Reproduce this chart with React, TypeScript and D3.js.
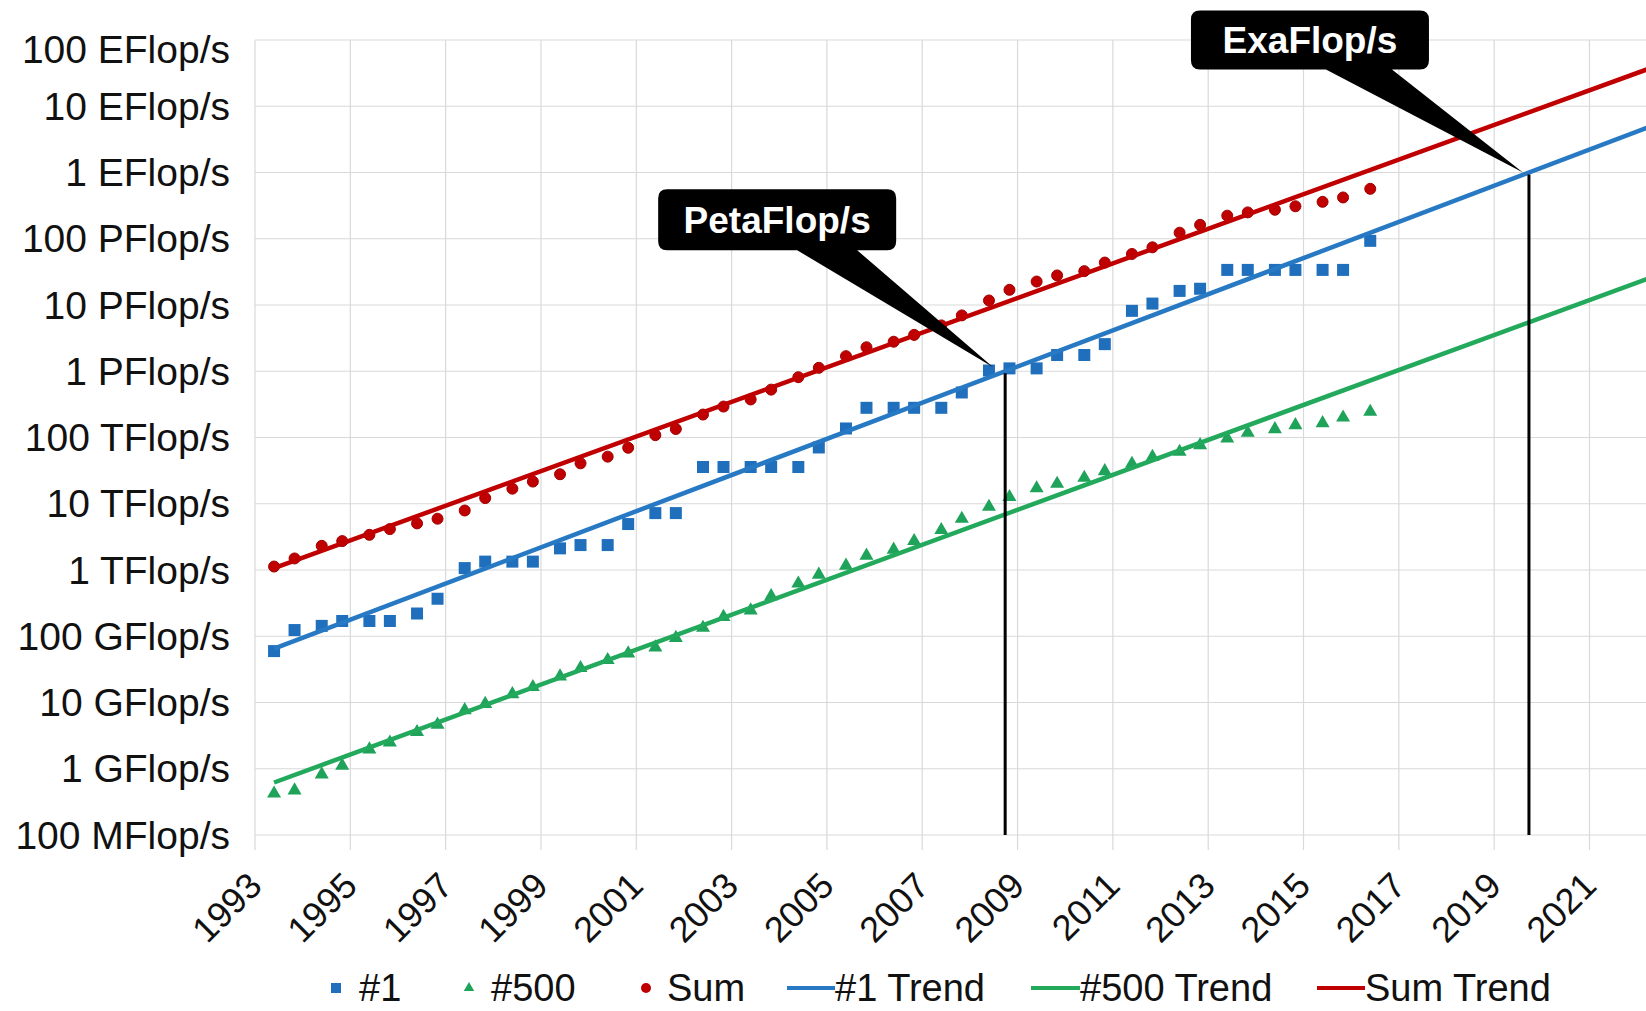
import * as d3 from 'd3'

// TOP500 lists (June / November)
const lists = [
  '1993-06', '1993-11', '1994-06', '1994-11', '1995-06', '1995-11', '1996-06', '1996-11',
  '1997-06', '1997-11', '1998-06', '1998-11', '1999-06', '1999-11', '2000-06', '2000-11',
  '2001-06', '2001-11', '2002-06', '2002-11', '2003-06', '2003-11', '2004-06', '2004-11',
  '2005-06', '2005-11', '2006-06', '2006-11', '2007-06', '2007-11', '2008-06', '2008-11',
  '2009-06', '2009-11', '2010-06', '2010-11', '2011-06', '2011-11', '2012-06', '2012-11',
  '2013-06', '2013-11', '2014-06', '2014-11', '2015-06', '2015-11', '2016-06',
]

// performance in GFlop/s
const rank1 = [
  59.7, 124, 143.4, 170, 170, 170, 220.4, 368.2,
  1068, 1338, 1338, 1338, 2121, 2379, 2379, 4938,
  7226, 7226, 35860, 35860, 35860, 35860, 35860, 70720,
  136800, 280600, 280600, 280600, 280600, 478200, 1026000, 1105000,
  1105000, 1759000, 1759000, 2566000, 8162000, 10510000, 16320000, 17590000,
  33860000, 33860000, 33860000, 33860000, 33860000, 33860000, 93010000,
]

const rank500 = [
  0.422, 0.472, 0.822, 1.114, 1.955, 2.489, 3.588, 4.622,
  7.674, 9.51, 13.39, 17.1, 24.73, 33.1, 43.82, 55.1,
  67.78, 94.3, 134.3, 195.8, 245.1, 403.4, 624, 850.6,
  1166, 1646, 2026, 2737, 4005, 5929, 9000, 12640,
  17100, 20050, 24670, 31120, 40190, 50940, 60820, 76500,
  96620, 117800, 133700, 153400, 164700, 200000, 245000,
]

const sum = [
  1128, 1493, 2317, 2730, 3397, 4147, 5051, 5945,
  7907, 12170, 16890, 21620, 27880, 40740, 51400, 70000,
  108500, 134400, 222000, 293000, 375000, 528000, 813000, 1127000,
  1690000, 2300000, 2790000, 3540000, 4920000, 6970000, 11700000, 16950000,
  22600000, 27950000, 32430000, 43700000, 58900000, 74200000, 123400000, 162000000,
  223000000, 250000000, 274000000, 309000000, 361000000, 420000000, 567000000,
]

// trend line end points [year, GFlop/s]
const trend1: [number, number][] = [[1993.4, 6.5e1], [2023, 7.8e9]]
const trend500: [number, number][] = [[1993.4, 6.2e-1], [2023, 4.0e7]]
const trendSum: [number, number][] = [[1993.4, 1.07e3], [2023, 5.8e10]]

const yTickValues = [1e-1, 1, 1e1, 1e2, 1e3, 1e4, 1e5, 1e6, 1e7, 1e8, 1e9, 1e10, 1e11]
const yTickLabels = [
  '100 MFlop/s', '1 GFlop/s', '10 GFlop/s', '100 GFlop/s', '1 TFlop/s', '10 TFlop/s',
  '100 TFlop/s', '1 PFlop/s', '10 PFlop/s', '100 PFlop/s', '1 EFlop/s', '10 EFlop/s', '100 EFlop/s',
]
const xTickYears = [1993, 1995, 1997, 1999, 2001, 2003, 2005, 2007, 2009, 2011, 2013, 2015, 2017, 2019, 2021]

const milestones = [
  { label: 'PetaFlop/s', year: 2008.74, gflops: 1e6 },
  { label: 'ExaFlop/s', year: 2019.73, gflops: 1e9 },
]

const legendItems = ['#1', '#500', 'Sum', '#1 Trend', '#500 Trend', 'Sum Trend']

// layout
const W = 1646
const H = 1011
const left = 255
const top = 40
const bottom = 835
const pxPerYear = 47.66
const FONT = '"Liberation Sans", Arial, sans-serif'

const BLUE = '#1f6fbd'
const GREEN = '#1fa25a'
const RED = '#c00000'
const BLUE_TREND = '#2779c3'
const GREEN_TREND = '#22a95c'
const RED_TREND = '#c00000'
const GRID = '#d9d9d9'

// callout geometry relative to the tip
const calloutLayout: Record<string, { tip: [number, number]; box: [number, number, number, number]; wedge: [number, number] }> = {
  'PetaFlop/s': { tip: [-12, -4], box: [-335, -178, -97, -117], wedge: [-196, -136] },
  'ExaFlop/s': { tip: [-6, 0], box: [-332, -162, -94, -103], wedge: [-197, -131] },
}

const legendLayout = [
  { kind: 'square', mx: 336, tx: 359 },
  { kind: 'triangle', mx: 469, tx: 491 },
  { kind: 'circle', mx: 646, tx: 667 },
  { kind: 'line', mx: 787, tx: 835, color: BLUE_TREND },
  { kind: 'line', mx: 1031, tx: 1080, color: GREEN_TREND },
  { kind: 'line', mx: 1317, tx: 1365, color: RED_TREND },
]

function listYear(s: string) {
  const [yr, mo] = s.split('-')
  return +yr + (mo === '06' ? 0.4 : 0.83)
}

function calloutPath(x0: number, y0: number, x1: number, y1: number, w0: number, w1: number, tx: number, ty: number) {
  const r = 9
  return `M${x0 + r},${y0} H${x1 - r} Q${x1},${y0} ${x1},${y0 + r} V${y1 - r} Q${x1},${y1} ${x1 - r},${y1} H${w1} L${tx},${ty} L${w0},${y1} H${x0 + r} Q${x0},${y1} ${x0},${y1 - r} V${y0 + r} Q${x0},${y0} ${x0 + r},${y0} Z`
}

export default function App() {
  const x = d3.scaleLinear().domain([1993, 2023]).range([left, left + 30 * pxPerYear])
  const y = d3.scaleLog().domain([1e-1, 1e11]).range([bottom, top])

  const line = d3
    .line<[number, number]>()
    .x((d) => x(d[0]))
    .y((d) => y(d[1]))

  const years = lists.map(listYear)
  const tri = d3.symbol().type(d3.symbolTriangle).size(85)()

  return (
    <svg width={W} height={H} style={{ position: 'absolute', left: 0, top: 0, background: '#fff' }} fontFamily={FONT}>
      <defs>
        <clipPath id="plot-clip">
          <rect x={left} y={0} width={W - left} height={bottom} />
        </clipPath>
      </defs>
      <rect width={W} height={H} fill="#fff" />

      {/* grid */}
      {yTickValues.map((v) => (
        <line key={v} x1={left} x2={W} y1={y(v)} y2={y(v)} stroke={GRID} strokeWidth={1.2} />
      ))}
      {xTickYears.map((yr) => (
        <line key={yr} x1={x(yr)} x2={x(yr)} y1={top} y2={bottom + 15} stroke={GRID} strokeWidth={1.2} />
      ))}

      {/* y labels */}
      {yTickValues.map((v, i) => (
        <text key={v} x={230} y={Math.max(y(v), top + 9)} dy="0.35em" textAnchor="end" fontSize={39} fill="#111">
          {yTickLabels[i]}
        </text>
      ))}

      {/* x labels */}
      {xTickYears.map((yr) => (
        <text
          key={yr}
          transform={`translate(${x(yr)},${bottom + 44}) rotate(-45)`}
          dy="0.35em"
          textAnchor="end"
          fontSize={36}
          fill="#111"
        >
          {yr}
        </text>
      ))}

      <g clipPath="url(#plot-clip)">
        {/* markers */}
        {rank1.map((v, i) => (
          <rect key={'b' + i} x={x(years[i]) - 6} y={y(v) - 6} width={12} height={12} fill={BLUE} />
        ))}
        {rank500.map((v, i) => (
          <path key={'g' + i} d={tri!} transform={`translate(${x(years[i])},${y(v)})`} fill={GREEN} />
        ))}
        {sum.map((v, i) => (
          <circle key={'r' + i} cx={x(years[i])} cy={y(v)} r={5.5} fill={RED} stroke="#a00000" strokeWidth={1} />
        ))}

        {/* trend lines */}
        <path d={line(trend500)!} fill="none" stroke={GREEN_TREND} strokeWidth={4.5} />
        <path d={line(trend1)!} fill="none" stroke={BLUE_TREND} strokeWidth={4.5} />
        <path d={line(trendSum)!} fill="none" stroke={RED_TREND} strokeWidth={4.5} />
      </g>

      {/* milestones */}
      {milestones.map((m) => {
        const px = x(m.year)
        const py = y(m.gflops)
        const L = calloutLayout[m.label]
        const tx = px + L.tip[0]
        const ty = py + L.tip[1]
        const [bx0, by0, bx1, by1] = [tx + L.box[0], ty + L.box[1], tx + L.box[2], ty + L.box[3]]
        return (
          <g key={m.label}>
            <line x1={px} x2={px} y1={py + 2} y2={bottom} stroke="#000" strokeWidth={3} />
            <path d={calloutPath(bx0, by0, bx1, by1, tx + L.wedge[0], tx + L.wedge[1], tx, ty)} fill="#000" />
            <text
              x={(bx0 + bx1) / 2}
              y={(by0 + by1) / 2}
              dy="0.35em"
              textAnchor="middle"
              fontSize={37}
              fontWeight="bold"
              fill="#fff"
            >
              {m.label}
            </text>
          </g>
        )
      })}

      {/* legend */}
      {legendItems.map((name, i) => {
        const L = legendLayout[i]
        const cy = 988
        let marker = null
        if (L.kind === 'square') marker = <rect x={L.mx - 5} y={cy - 5} width={10} height={10} fill={BLUE} />
        else if (L.kind === 'triangle') marker = <path d={tri!} transform={`translate(${L.mx},${cy}) scale(0.75)`} fill={GREEN} />
        else if (L.kind === 'circle') marker = <circle cx={L.mx} cy={cy} r={5} fill={RED} />
        else marker = <line x1={L.mx} x2={L.tx} y1={cy} y2={cy} stroke={L.color} strokeWidth={4} />
        return (
          <g key={name}>
            {marker}
            <text x={L.tx} y={cy} dy="0.35em" fontSize={38} fill="#111">
              {name}
            </text>
          </g>
        )
      })}
    </svg>
  )
}
